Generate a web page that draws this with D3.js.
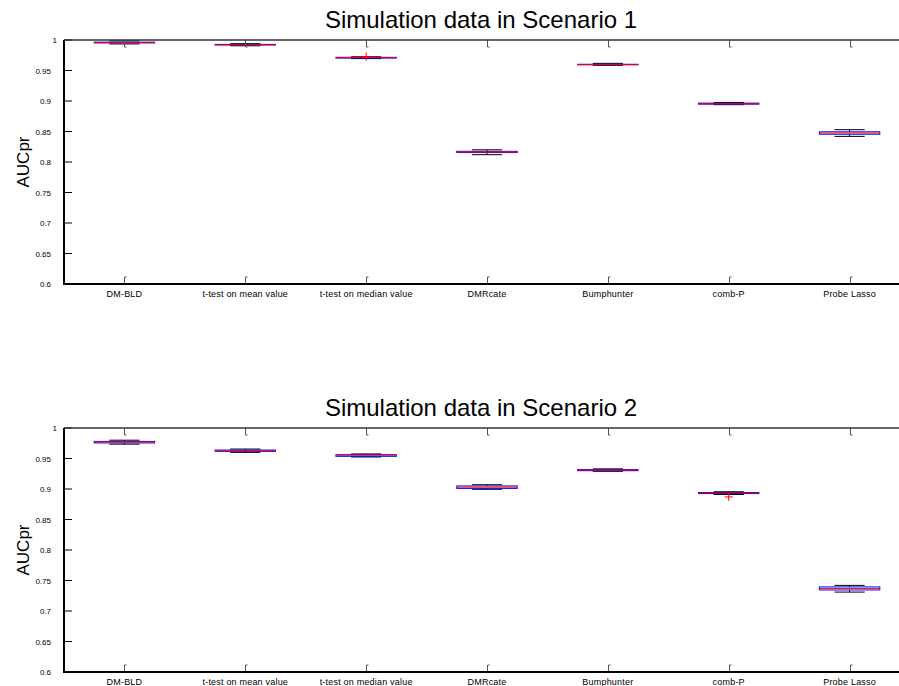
<!DOCTYPE html>
<html><head><meta charset="utf-8">
<script src="https://cdn.jsdelivr.net/npm/d3@7"></script>
<style>body{margin:0;background:#fff}svg{display:block}text{font-family:"Liberation Sans",Arial,sans-serif}</style>
</head><body>
<script>
const categories = ["DM-BLD","t-test on mean value","t-test on median value","DMRcate","Bumphunter","comb-P","Probe Lasso"];
const yTicks = [0.6,0.65,0.7,0.75,0.8,0.85,0.9,0.95,1];
const titles = ["Simulation data in Scenario 1","Simulation data in Scenario 2"];
// per method: lower whisker, q1, median, q3, upper whisker
const s1Low  = [0.9935,0.9905,0.9695,0.8120,0.9585,0.8940,0.8420];
const s1Q1   = [0.9952,0.9918,0.9703,0.8155,0.9594,0.8948,0.8455];
const s1Med  = [0.9958,0.9923,0.9712,0.8163,0.9597,0.8955,0.8475];
const s1Q3   = [0.9965,0.9928,0.9716,0.8175,0.9602,0.8965,0.8495];
const s1High = [0.9985,0.9940,0.9725,0.8200,0.9617,0.8975,0.8530];
const s1Out  = [[],[],[0.9727],[],[],[],[]];
const s2Low  = [0.9735,0.9600,0.9525,0.8995,0.9290,0.8910,0.7310];
const s2Q1   = [0.9755,0.9618,0.9536,0.9010,0.9300,0.8925,0.7345];
const s2Med  = [0.9770,0.9630,0.9555,0.9030,0.9310,0.8935,0.7370];
const s2Q3   = [0.9780,0.9638,0.9562,0.9050,0.9318,0.8942,0.7395];
const s2High = [0.9800,0.9655,0.9575,0.9070,0.9330,0.8955,0.7420];
const s2Out  = [[],[],[],[],[],[0.8870],[]];

const W = 899, H = 686;
const svg = d3.select("body").append("svg").attr("width", W).attr("height", H);
const x = d3.scaleLinear().domain([0.5, 7.5]).range([64, 910]);
const panels = [
  {top: 40, bottom: 284, title: titles[0], lo: s1Low, q1: s1Q1, med: s1Med, q3: s1Q3, hi: s1High, out: s1Out},
  {top: 428, bottom: 672, title: titles[1], lo: s2Low, q1: s2Q1, med: s2Med, q3: s2Q3, hi: s2High, out: s2Out}
];
panels.forEach(p => {
  const g = svg.append("g");
  const y = d3.scaleLinear().domain([0.6, 1]).range([p.bottom, p.top]);
  g.append("text").attr("x", 481).attr("y", p.top - 12).attr("text-anchor", "middle")
    .attr("font-size", 24).text(p.title);
  g.append("text").attr("transform", `translate(29,${(p.top + p.bottom) / 2}) rotate(-90)`)
    .attr("text-anchor", "middle").attr("font-size", 17).text("AUCpr");
  categories.forEach((c, i) => {
    const cx = x(i + 1), hw = x(1.25) - x(1), cw = x(1.125) - x(1);
    g.append("line").attr("x1", cx).attr("x2", cx).attr("y1", y(p.q3[i])).attr("y2", y(p.hi[i]))
      .attr("stroke", "#000").attr("stroke-dasharray", "3,2");
    g.append("line").attr("x1", cx).attr("x2", cx).attr("y1", y(p.q1[i])).attr("y2", y(p.lo[i]))
      .attr("stroke", "#000").attr("stroke-dasharray", "3,2");
    [p.lo[i], p.hi[i]].forEach(v => g.append("line").attr("x1", cx - cw).attr("x2", cx + cw)
      .attr("y1", y(v)).attr("y2", y(v)).attr("stroke", "#000"));
    g.append("rect").attr("x", cx - hw).attr("width", 2 * hw)
      .attr("y", y(p.q3[i])).attr("height", Math.max(0.5, y(p.q1[i]) - y(p.q3[i])))
      .attr("fill", "none").attr("stroke", "#0000ff");
    g.append("line").attr("x1", cx - hw).attr("x2", cx + hw).attr("y1", y(p.med[i])).attr("y2", y(p.med[i]))
      .attr("stroke", "#ff0000");
    p.out[i].forEach(v => {
      g.append("path").attr("d", `M${cx - 4},${y(v)}H${cx + 4}M${cx},${y(v) - 4}V${y(v) + 4}`)
        .attr("stroke", "#ff0000");
    });
  });
  categories.forEach((c, i) => {
    const cx = Math.round(x(i + 1)) + 0.5;
    g.append("path").attr("d", `M${cx},${p.top}V${p.top + 7}h2`).attr("stroke", "#555").attr("fill", "none");
    g.append("path").attr("d", `M${cx},${p.bottom}V${p.bottom - 7}h2`).attr("stroke", "#555").attr("fill", "none");
    g.append("text").attr("x", x(i + 1)).attr("y", p.bottom + 13).attr("text-anchor", "middle")
      .attr("font-size", 9).attr("letter-spacing", 0.2).attr("fill", "#000").text(c);
  });
  yTicks.forEach(t => {
    g.append("line").attr("x1", 64).attr("x2", 72).attr("y1", y(t)).attr("y2", y(t)).attr("stroke", "#000");
    g.append("text").attr("x", t === 1 ? 57 : 51).attr("y", y(t) + 3).attr("text-anchor", "end")
      .attr("font-size", 8).text(t === 1 ? "1" : d3.format("")(t));
  });
  g.append("line").attr("x1", 64).attr("x2", W).attr("y1", p.top).attr("y2", p.top).attr("stroke", "#333").attr("stroke-width", 1.5);
  g.append("line").attr("x1", 64).attr("x2", W).attr("y1", p.bottom).attr("y2", p.bottom).attr("stroke", "#000").attr("stroke-width", 2);
  g.append("line").attr("x1", 64).attr("x2", 64).attr("y1", p.top).attr("y2", p.bottom + 1).attr("stroke", "#000").attr("stroke-width", 2);
});
</script>
</body></html>
